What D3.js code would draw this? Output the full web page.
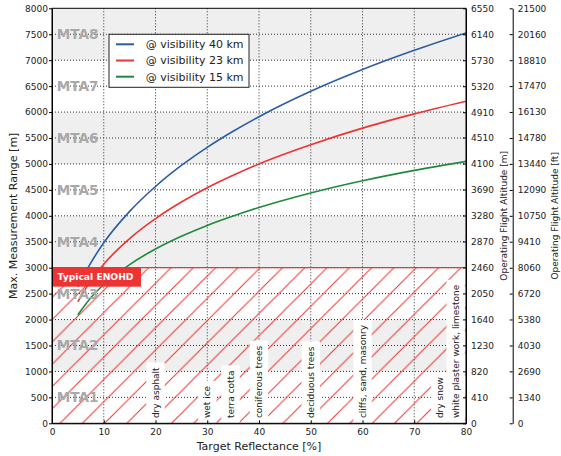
<!DOCTYPE html>
<html>
<head>
<meta charset="utf-8">
<script src="https://cdn.jsdelivr.net/npm/d3@7"></script>
<style>
  html, body { margin: 0; padding: 0; background: #fff; }
  svg { display: block; font-family: "DejaVu Sans", sans-serif; }
</style>
</head>
<body>
<svg id="chart" width="561" height="456"></svg>
<script>
// Target reflectance [%] sampled along each visibility curve
const reflectance = [5, 7.5, 10, 15, 20, 25, 30, 35, 40, 50, 60, 70, 80];
// Maximum measurement range [m] for each atmospheric visibility
const range40km = [2630, 3092, 3480, 4085, 4565, 4970, 5320, 5630, 5910, 6400, 6820, 7190, 7525];
const range23km = [2343, 2750, 3068, 3560, 3945, 4265, 4540, 4780, 5000, 5370, 5690, 5965, 6210];
const range15km = [2090, 2420, 2675, 3060, 3360, 3605, 3815, 3995, 4160, 4440, 4675, 4875, 5050];
const seriesNames = ["@ visibility 40 km", "@ visibility 23 km", "@ visibility 15 km"];

// Axis ticks
const xTicks = [0, 10, 20, 30, 40, 50, 60, 70, 80];
const rangeTicks = d3.range(0, 8001, 500);
const altitudeM = [0, 410, 820, 1230, 1640, 2050, 2460, 2870, 3280, 3690, 4100, 4510, 4910, 5320, 5730, 6140, 6550];
const altitudeFt = [0, 1340, 2690, 4030, 5380, 6720, 8060, 9410, 10750, 12090, 13440, 14780, 16130, 17470, 18810, 20160, 21500];

// Multiple-time-around zones (range bands)
const mtaNames = ["MTA1", "MTA2", "MTA3", "MTA4", "MTA5", "MTA6", "MTA7", "MTA8"];
const mtaLower = [0, 1000, 2000, 3000, 4000, 5000, 6000, 7000];

// Typical eye-safe distance zone
const enohdLabel = "Typical ENOHD";
const enohdRange = 3000;

// Typical surfaces and their reflectance
const surfaceNames = ["dry asphalt", "wet ice", "terra cotta", "coniferous trees", "deciduous trees",
                      "cliffs, sand, masonry", "dry snow", "white plaster work, limestone"];
const surfaceRefl = [20, 30, 34.5, 40, 50, 60, 75, 78];

const colors = ["#2b5ca8", "#ee3333", "#1f8a3e"];
const hatchRed = "#ee3333";

const svg = d3.select("#chart");
const pLeft = 52, pRight = 466, pTop = 8.3, pBottom = 423.3;

const x = d3.scaleLinear().domain([0, 80]).range([pLeft, pRight]);
const y = d3.scaleLinear().domain([0, 8000]).range([pBottom, pTop]);
const yM = d3.scaleLinear().domain([0, 6550]).range([pBottom, pTop]);
const yFt = d3.scaleLinear().domain([0, 21500]).range([pBottom, pTop]);

// hatch pattern: 45° red lines
const defs = svg.append("defs");
const hs = 22.3;
const pat = defs.append("pattern")
  .attr("id", "hatch").attr("patternUnits", "userSpaceOnUse")
  .attr("x", 15).attr("y", 0).attr("width", hs).attr("height", hs);
pat.append("path")
  .attr("d", `M0,${hs} L${hs},0 M${-hs/2},${hs/2} L${hs/2},${-hs/2} M${hs/2},${1.5*hs} L${1.5*hs},${hs/2}`)
  .attr("stroke", hatchRed).attr("stroke-width", 1);
defs.append("clipPath").attr("id", "plotClip")
  .append("rect").attr("x", pLeft).attr("y", pTop).attr("width", pRight - pLeft).attr("height", pBottom - pTop);

const plot = svg.append("g").attr("clip-path", "url(#plotClip)");

// alternating MTA bands
plot.selectAll("rect.band")
  .data(mtaLower.filter((d, i) => i % 2 === 1))
  .join("rect").attr("class", "band")
  .attr("x", pLeft).attr("width", pRight - pLeft)
  .attr("y", d => y(d + 1000)).attr("height", d => y(d) - y(d + 1000))
  .attr("fill", "#eeefee");

// dotted grid
const grid = plot.append("g").attr("stroke", "#333").attr("stroke-width", 1).attr("stroke-dasharray", "1,2");
grid.selectAll("line.gx").data(xTicks.slice(1, -1)).join("line").attr("class", "gx")
  .attr("x1", d => x(d)).attr("x2", d => x(d)).attr("y1", pTop).attr("y2", pBottom);
grid.selectAll("line.gy").data(rangeTicks.slice(1, -1)).join("line").attr("class", "gy")
  .attr("y1", d => y(d)).attr("y2", d => y(d)).attr("x1", pLeft).attr("x2", pRight);

// hatched ENOHD zone
plot.append("rect")
  .attr("x", pLeft).attr("width", pRight - pLeft)
  .attr("y", y(enohdRange)).attr("height", y(0) - y(enohdRange))
  .attr("fill", "url(#hatch)");
plot.append("line")
  .attr("x1", pLeft).attr("x2", pRight).attr("y1", y(enohdRange)).attr("y2", y(enohdRange))
  .attr("stroke", hatchRed).attr("stroke-width", 1.2);

// range curves
const series = [range40km, range23km, range15km];
const line = d3.line().x(d => x(d[0])).y(d => y(d[1])).curve(d3.curveMonotoneX);
series.forEach((vals, i) => {
  plot.append("path")
    .datum(reflectance.map((r, j) => [r, vals[j]]))
    .attr("d", line).attr("fill", "none")
    .attr("stroke", colors[i]).attr("stroke-width", 1.6);
});

// surface labels with white boxes
const surfBase = y(100);
surfaceNames.forEach((name, i) => {
  const g = plot.append("g");
  const cx = x(surfaceRefl[i]);
  const rect = g.append("rect").attr("fill", "#fff");
  const t = g.append("text")
    .attr("transform", `translate(${cx},${surfBase}) rotate(-90)`)
    .attr("dy", "0.35em").attr("font-size", 9).attr("fill", "#222")
    .text(name);
  const len = t.node().getComputedTextLength();
  rect.attr("x", cx - 9.2).attr("width", 18.4)
    .attr("y", surfBase - len - 5).attr("height", pBottom - (surfBase - len - 5));
});

// MTA zone labels
plot.selectAll("text.mta").data(mtaNames).join("text")
  .attr("class", "mta")
  .attr("x", x(0) + 4.7)
  .attr("y", (d, i) => y(mtaLower[i] + 500))
  .attr("dy", "0.36em")
  .attr("font-size", 13.6).attr("font-weight", "bold").attr("fill", "#a9a9a9")
  .text(d => d);

// ENOHD tag
const tagG = svg.append("g");
const tagRect = tagG.append("rect").attr("fill", hatchRed);
const tagText = tagG.append("text")
  .attr("x", x(0) + 5.5).attr("y", y(enohdRange) + 9.6).attr("dy", "0.35em")
  .attr("font-size", 9.2).attr("font-weight", "bold").attr("fill", "#fff")
  .text(enohdLabel);
const tagLen = tagText.node().getComputedTextLength();
tagRect.attr("x", x(0)).attr("y", y(enohdRange)).attr("width", tagLen + 13).attr("height", 19);

// frame
svg.append("rect").attr("x", pLeft).attr("y", pTop).attr("width", pRight - pLeft).attr("height", pBottom - pTop)
  .attr("fill", "none").attr("stroke", "#000").attr("stroke-width", 1);

// axes
function styleAxis(g) {
  g.selectAll("text").attr("font-size", 9).attr("fill", "#222").attr("font-family", "DejaVu Sans, sans-serif");
  g.selectAll("line").attr("stroke", "#000");
  g.select(".domain").attr("stroke", "#000");
}
const intFmt = d3.format("d");
svg.append("g").attr("transform", `translate(0,${pBottom})`)
  .call(d3.axisBottom(x).tickValues(xTicks).tickFormat(intFmt).tickSize(-3).tickSizeOuter(0).tickPadding(5))
  .call(styleAxis);
svg.append("g").attr("transform", `translate(${pLeft},0)`)
  .call(d3.axisLeft(y).tickValues(rangeTicks).tickFormat(intFmt).tickSize(3).tickSizeOuter(0).tickPadding(1))
  .call(styleAxis);
svg.append("g").attr("transform", `translate(${pRight},0)`)
  .call(d3.axisRight(yM).tickValues(altitudeM).tickFormat(intFmt).tickSize(-3).tickSizeOuter(0).tickPadding(5))
  .call(styleAxis);
svg.append("g").attr("transform", `translate(512.7,0)`)
  .call(d3.axisRight(yFt).tickValues(altitudeFt).tickFormat(intFmt).tickSize(-3).tickSizeOuter(0).tickPadding(5))
  .call(styleAxis);

// axis titles
const midY = (pTop + pBottom) / 2;
svg.append("text").attr("x", (pLeft + pRight) / 2).attr("y", 446).attr("dy", "0.35em")
  .attr("text-anchor", "middle").attr("font-size", 11).attr("fill", "#222")
  .text("Target Reflectance [%]");
svg.append("text").attr("transform", `translate(13.5,${midY}) rotate(-90)`).attr("dy", "0.35em")
  .attr("text-anchor", "middle").attr("font-size", 11).attr("fill", "#222")
  .text("Max. Measurement Range [m]");
svg.append("text").attr("transform", `translate(503.5,${midY}) rotate(-90)`).attr("dy", "0.35em")
  .attr("text-anchor", "middle").attr("font-size", 9).attr("fill", "#222")
  .text("Operating Flight Altitude [m]");
svg.append("text").attr("transform", `translate(555,${midY}) rotate(-90)`).attr("dy", "0.35em")
  .attr("text-anchor", "middle").attr("font-size", 9).attr("fill", "#222")
  .text("Operating Flight Altitude [ft]");

// legend
const lg = svg.append("g");
lg.append("rect").attr("x", 109).attr("y", 34.3).attr("width", 140).attr("height", 53)
  .attr("fill", "#fff").attr("stroke", "#222").attr("stroke-width", 1);
seriesNames.forEach((name, i) => {
  const ly = 44.3 + i * 16.2;
  lg.append("line").attr("x1", 116).attr("x2", 134).attr("y1", ly).attr("y2", ly)
    .attr("stroke", colors[i]).attr("stroke-width", 2);
  lg.append("text").attr("x", 145.7).attr("y", ly).attr("dy", "0.35em")
    .attr("font-size", 11).attr("fill", "#222").text(name);
});
</script>
</body>
</html>
